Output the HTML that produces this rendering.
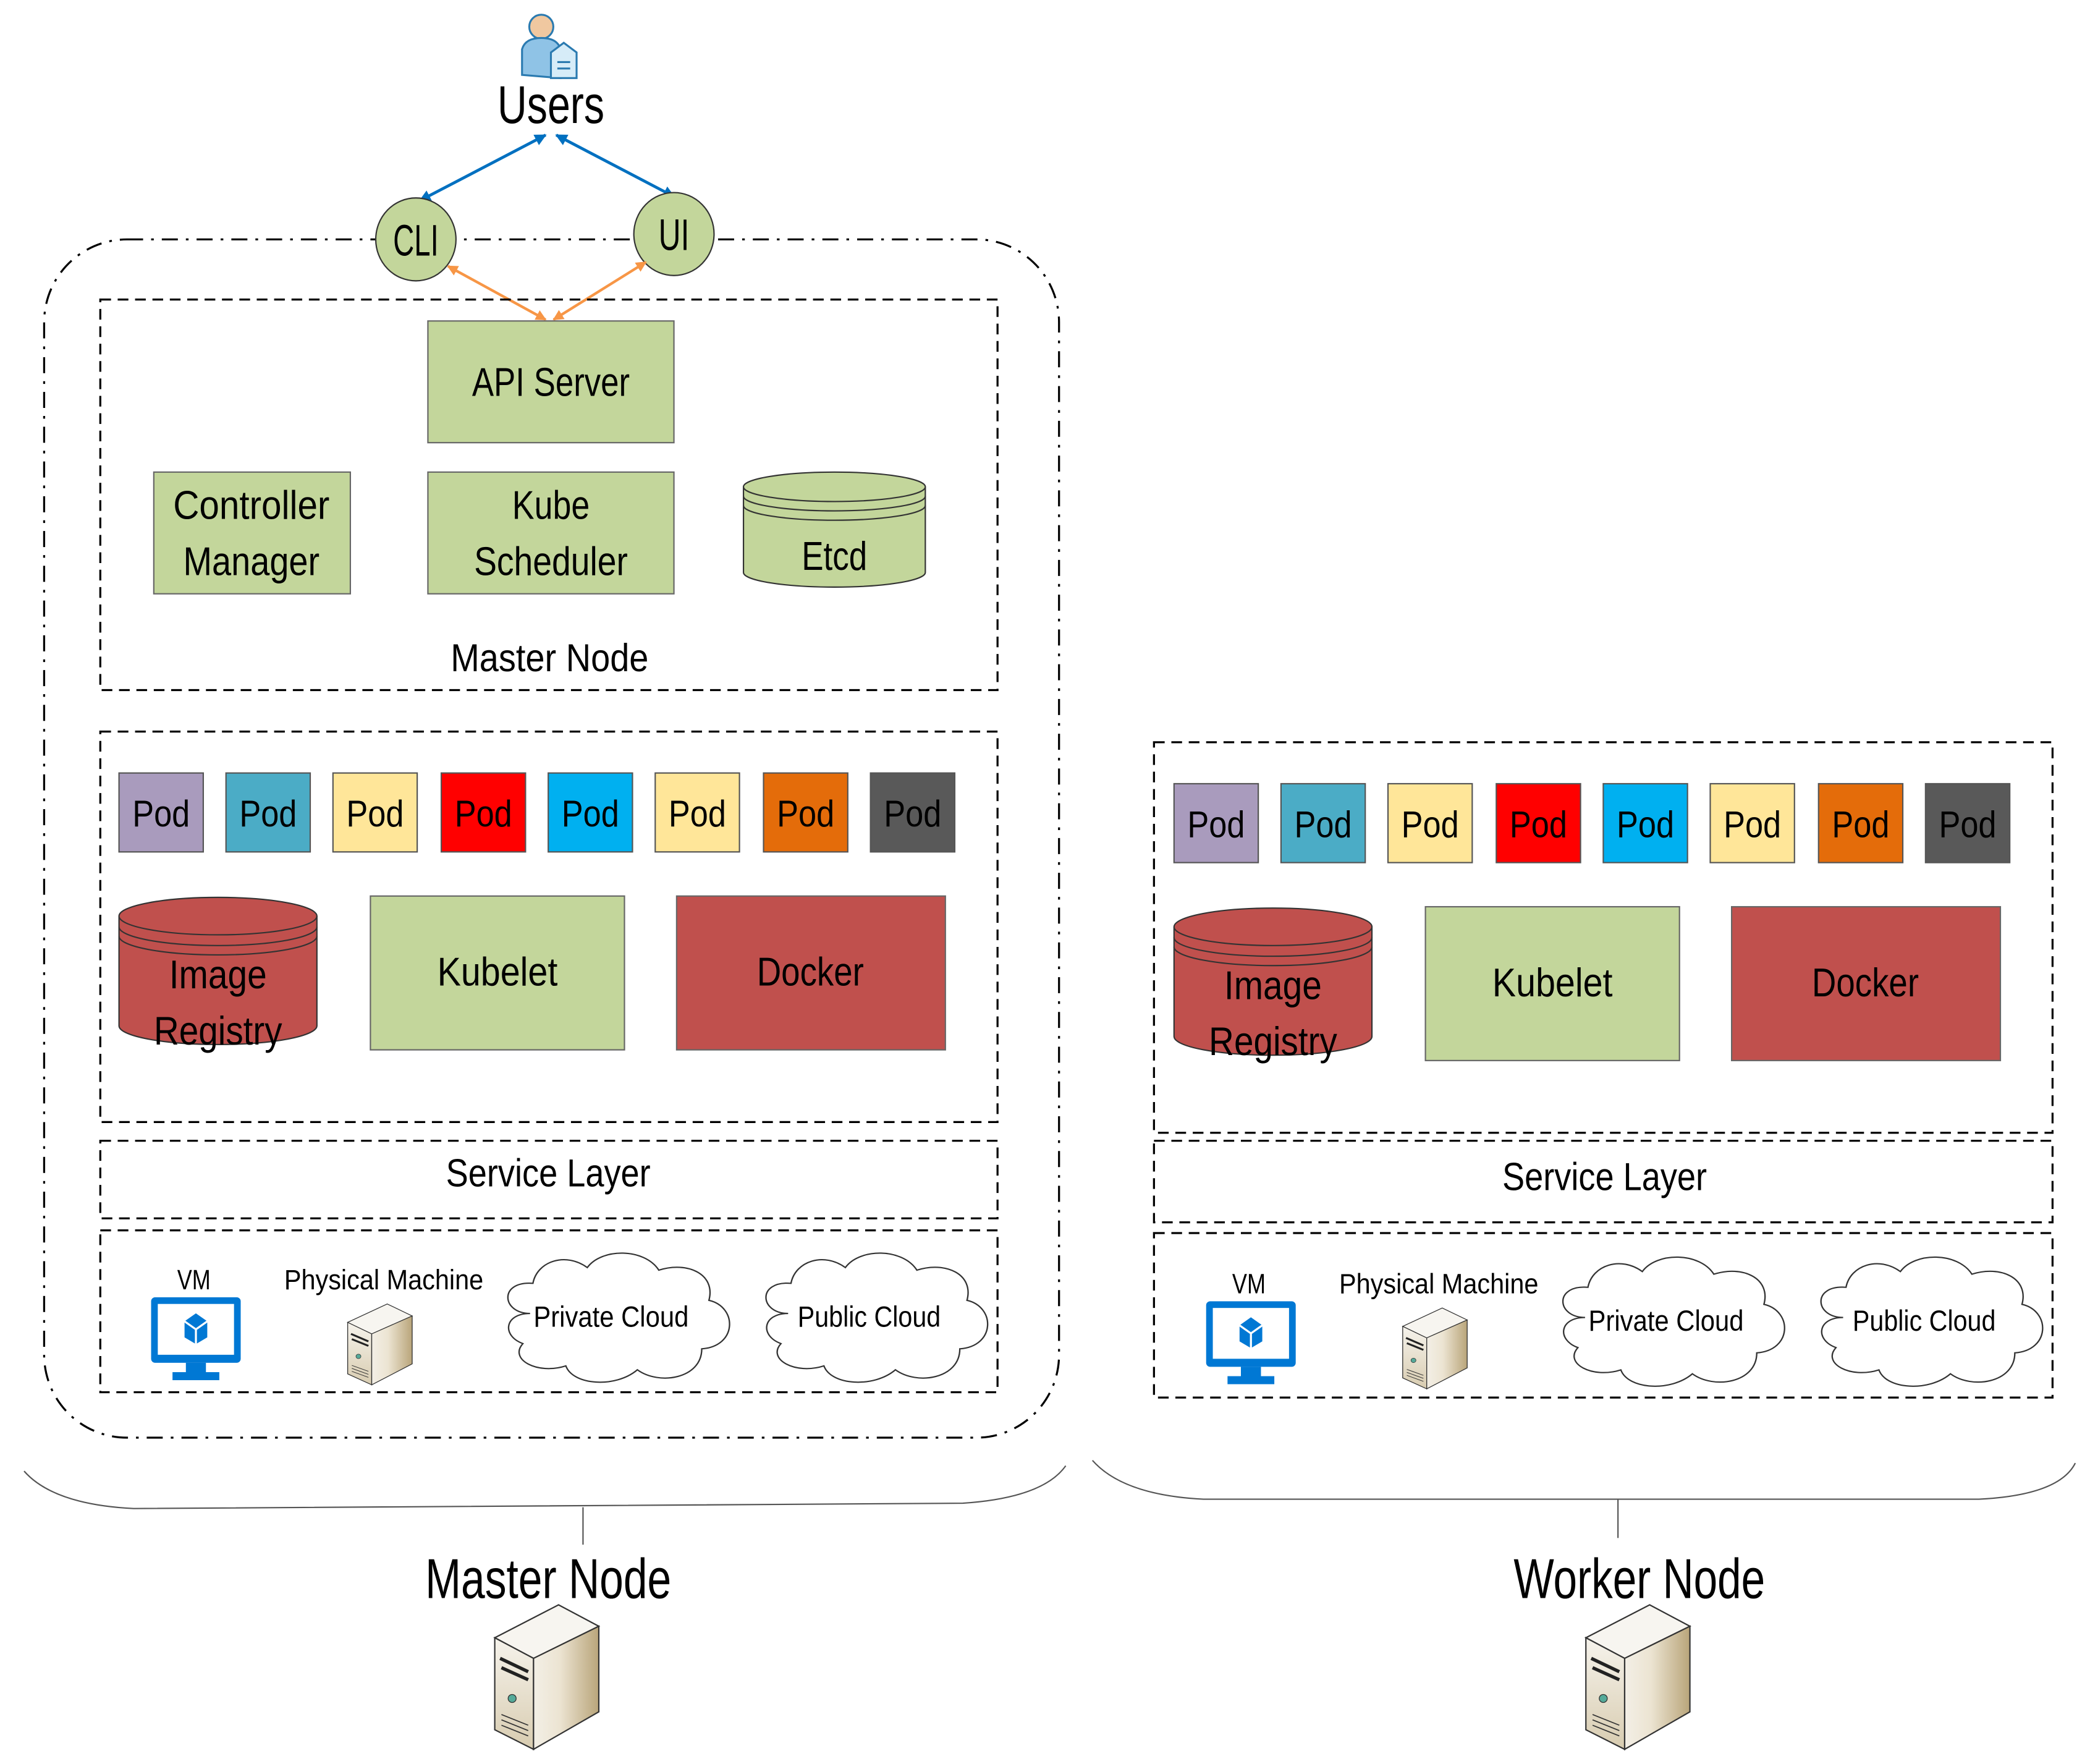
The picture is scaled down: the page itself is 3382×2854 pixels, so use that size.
<!DOCTYPE html>
<html><head><meta charset="utf-8"><style>
html,body{margin:0;padding:0;background:#fff}
svg{display:block}
text{font-family:"Liberation Sans Narrow","Liberation Sans",sans-serif;fill:#000}
</style></head><body>
<svg width="3382" height="2854" viewBox="0 0 1563 1319" xmlns="http://www.w3.org/2000/svg">
<defs>
<linearGradient id="sf" x1="0" x2="1"><stop offset="0" stop-color="#f3efe6"/><stop offset="0.4" stop-color="#ece4d2"/><stop offset="1" stop-color="#b9a57a"/></linearGradient>
<linearGradient id="ff" x1="0" y1="0" x2="0" y2="1"><stop offset="0" stop-color="#f6f3ec"/><stop offset="1" stop-color="#d8ccb0"/></linearGradient>
<g id="server">
<polygon points="0,24.6 47.7,0 77.8,16 29,40" fill="#f7f5f0" stroke="#333" stroke-width="1"/>
<polygon points="0,24.6 29,40 29,108 0,93.4" fill="url(#ff)" stroke="#333" stroke-width="1"/>
<polygon points="29,40 77.8,16 77.8,80 29,108" fill="url(#sf)" stroke="#333" stroke-width="1"/>
<path d="M4,40 L25,50 M5,47 L25,56" stroke="#222" stroke-width="2.5"/>
<circle cx="13" cy="70" r="3" fill="#5a9" stroke="#333" stroke-width="0.6"/>
<path d="M5,82 L25,90 M5,86 L25,94 M5,90 L25,98" stroke="#333" stroke-width="0.8"/>
</g>
<g id="vm">
<rect x="0" y="0" width="67" height="49" rx="3" fill="#0078d4"/>
<rect x="5" y="5" width="57" height="38" fill="#fff"/>
<rect x="26" y="49" width="15" height="8" fill="#0078d4"/>
<rect x="16" y="56" width="35" height="6" fill="#0078d4"/>
<polygon points="33.5,12 42,18 42,30 33.5,35 25,30 25,18" fill="#0078d4"/>
<path d="M25,18 L33.5,24 L42,18 M33.5,24 L33.5,35" stroke="#fff" stroke-width="1.5" fill="none"/>
</g>
<g id="cloud">
<path d="M20,45 C0,45 -2,20 22,22 C25,5 45,-2 60,10 C70,-5 100,-5 110,12 C130,5 150,15 145,35 C165,40 165,70 140,72 C140,95 110,100 95,88 C80,102 50,100 45,85 C25,92 5,80 15,68 C0,62 2,45 20,45 Z" fill="#fff" stroke="#333" stroke-width="1"/>
</g>
<g id="pods" font-size="28" text-anchor="middle">
<rect x="0" y="0" width="63" height="59" fill="#a99bbd" stroke="#555"/><text x="31.5" y="40" textLength="43" lengthAdjust="spacingAndGlyphs">Pod</text>
<rect x="80" y="0" width="63" height="59" fill="#4bacc6" stroke="#555"/><text x="111.5" y="40" textLength="43" lengthAdjust="spacingAndGlyphs">Pod</text>
<rect x="160" y="0" width="63" height="59" fill="#ffe699" stroke="#555"/><text x="191.5" y="40" textLength="43" lengthAdjust="spacingAndGlyphs">Pod</text>
<rect x="241" y="0" width="63" height="59" fill="#ff0000" stroke="#555"/><text x="272.5" y="40" textLength="43" lengthAdjust="spacingAndGlyphs">Pod</text>
<rect x="321" y="0" width="63" height="59" fill="#00b0f0" stroke="#555"/><text x="352.5" y="40" textLength="43" lengthAdjust="spacingAndGlyphs">Pod</text>
<rect x="401" y="0" width="63" height="59" fill="#ffe699" stroke="#555"/><text x="432.5" y="40" textLength="43" lengthAdjust="spacingAndGlyphs">Pod</text>
<rect x="482" y="0" width="63" height="59" fill="#e46c0a" stroke="#555"/><text x="513.5" y="40" textLength="43" lengthAdjust="spacingAndGlyphs">Pod</text>
<rect x="562" y="0" width="63" height="59" fill="#595959" stroke="#555"/><text x="593.5" y="40" textLength="43" lengthAdjust="spacingAndGlyphs">Pod</text>
</g>
<g id="worklayer">
<use href="#pods" x="14" y="31"/>
<path d="M14,138 L14,220 A74,14 0 0 0 162,220 L162,138" fill="#c0504d" stroke="#333"/>
<ellipse cx="88" cy="138" rx="74" ry="14" fill="#c0504d" stroke="#333"/>
<path d="M14,146 A74,14 0 0 0 162,146 M14,153 A74,14 0 0 0 162,153" fill="none" stroke="#333"/>
<text x="88" y="192" font-size="30" text-anchor="middle" textLength="73" lengthAdjust="spacingAndGlyphs">Image</text>
<text x="88" y="234" font-size="30" text-anchor="middle" textLength="96" lengthAdjust="spacingAndGlyphs">Registry</text>
<rect x="202" y="123" width="190" height="115" fill="#c3d69b" stroke="#666"/>
<text x="297" y="190" font-size="30" text-anchor="middle" textLength="90" lengthAdjust="spacingAndGlyphs">Kubelet</text>
<rect x="431" y="123" width="201" height="115" fill="#c0504d" stroke="#666"/>
<text x="531" y="190" font-size="30" text-anchor="middle" textLength="80" lengthAdjust="spacingAndGlyphs">Docker</text>
</g>
<g id="infra">
<text x="70" y="44" font-size="21" text-anchor="middle" textLength="25" lengthAdjust="spacingAndGlyphs">VM</text>
<use href="#vm" x="38" y="50"/>
<text x="212" y="44" font-size="21" text-anchor="middle" textLength="149" lengthAdjust="spacingAndGlyphs">Physical Machine</text>
<use href="#server" transform="translate(185,55) scale(0.62,0.56)"/>
<use href="#cloud" transform="translate(300,18) scale(1.07,0.98)"/>
<text x="382" y="72" font-size="22" text-anchor="middle" textLength="116" lengthAdjust="spacingAndGlyphs">Private Cloud</text>
<use href="#cloud" transform="translate(493,18) scale(1.07,0.98)"/>
<text x="575" y="72" font-size="22" text-anchor="middle" textLength="107" lengthAdjust="spacingAndGlyphs">Public Cloud</text>
</g>
<marker id="ab" viewBox="0 0 10 10" refX="9" refY="5" markerWidth="4" markerHeight="4" orient="auto-start-reverse"><path d="M0,0 L10,5 L0,10 z" fill="#0070c0"/></marker>
<marker id="ao" viewBox="0 0 10 10" refX="9" refY="5" markerWidth="4" markerHeight="4" orient="auto-start-reverse"><path d="M0,0 L10,5 L0,10 z" fill="#f79646"/></marker>
</defs>

<rect x="33" y="179" width="759" height="896" rx="62" fill="none" stroke="#000" stroke-width="1.5" stroke-dasharray="12,6,2,6"/>

<g transform="translate(388,8) scale(1.2)">
<circle cx="14" cy="10" r="7.5" fill="#f0c8a0" stroke="#2a7ab0" stroke-width="1.2"/>
<path d="M2,40 L2,24 Q4,17 14,17 Q24,17 26,24 L26,42 Z" fill="#8fc3e6" stroke="#2a7ab0" stroke-width="1.2"/>
<path d="M20,26 L28,20 L36,26 L36,42 L20,42 Z" fill="#d6ecf8" stroke="#2a7ab0" stroke-width="1.2"/>
<path d="M24,32 L32,32 M24,36 L32,36" stroke="#2a7ab0" stroke-width="1.2"/>
</g>
<text x="412" y="92" font-size="40" text-anchor="middle" textLength="80" lengthAdjust="spacingAndGlyphs">Users</text>

<line x1="408" y1="101" x2="314" y2="150" stroke="#0070c0" stroke-width="2.2" marker-start="url(#ab)" marker-end="url(#ab)"/>
<line x1="416" y1="101" x2="504" y2="147" stroke="#0070c0" stroke-width="2.2" marker-start="url(#ab)" marker-end="url(#ab)"/>

<ellipse cx="311" cy="179" rx="30" ry="31" fill="#c3d69b" stroke="#333"/>
<text x="311" y="191" font-size="33" text-anchor="middle" textLength="34" lengthAdjust="spacingAndGlyphs">CLI</text>
<ellipse cx="504" cy="175" rx="30" ry="31" fill="#c3d69b" stroke="#333"/>
<text x="504" y="187" font-size="33" text-anchor="middle" textLength="23" lengthAdjust="spacingAndGlyphs">UI</text>

<line x1="408" y1="239" x2="335" y2="199" stroke="#f79646" stroke-width="2" marker-start="url(#ao)" marker-end="url(#ao)"/>
<line x1="414" y1="239" x2="483" y2="196" stroke="#f79646" stroke-width="2" marker-start="url(#ao)" marker-end="url(#ao)"/>

<rect x="75" y="224" width="671" height="292" fill="none" stroke="#000" stroke-width="1.5" stroke-dasharray="8,5"/>
<rect x="320" y="240" width="184" height="91" fill="#c3d69b" stroke="#666"/>
<text x="412" y="296" font-size="30" text-anchor="middle" textLength="118" lengthAdjust="spacingAndGlyphs">API Server</text>
<rect x="115" y="353" width="147" height="91" fill="#c3d69b" stroke="#666"/>
<text x="188" y="388" font-size="30" text-anchor="middle" textLength="117" lengthAdjust="spacingAndGlyphs">Controller</text>
<text x="188" y="430" font-size="30" text-anchor="middle" textLength="102" lengthAdjust="spacingAndGlyphs">Manager</text>
<rect x="320" y="353" width="184" height="91" fill="#c3d69b" stroke="#666"/>
<text x="412" y="388" font-size="30" text-anchor="middle" textLength="58" lengthAdjust="spacingAndGlyphs">Kube</text>
<text x="412" y="430" font-size="30" text-anchor="middle" textLength="115" lengthAdjust="spacingAndGlyphs">Scheduler</text>
<path d="M556,364 L556,428 A68,11 0 0 0 692,428 L692,364" fill="#c3d69b" stroke="#333"/>
<ellipse cx="624" cy="364" rx="68" ry="11" fill="#c3d69b" stroke="#333"/>
<path d="M556,371 A68,11 0 0 0 692,371 M556,378 A68,11 0 0 0 692,378" fill="none" stroke="#333"/>
<text x="624" y="426" font-size="30" text-anchor="middle" textLength="49" lengthAdjust="spacingAndGlyphs">Etcd</text>
<text x="411" y="502" font-size="29" text-anchor="middle" textLength="148" lengthAdjust="spacingAndGlyphs">Master Node</text>

<rect x="75" y="547" width="671" height="292" fill="none" stroke="#000" stroke-width="1.5" stroke-dasharray="8,5"/>
<use href="#worklayer" x="75" y="547"/>
<rect x="75" y="853" width="671" height="58" fill="none" stroke="#000" stroke-width="1.5" stroke-dasharray="8,5"/>
<text x="410" y="887" font-size="29" text-anchor="middle" textLength="153" lengthAdjust="spacingAndGlyphs">Service Layer</text>
<rect x="75" y="920" width="671" height="121" fill="none" stroke="#000" stroke-width="1.5" stroke-dasharray="8,5"/>
<use href="#infra" x="75" y="920"/>

<rect x="863" y="555" width="672" height="292" fill="none" stroke="#000" stroke-width="1.5" stroke-dasharray="8,5"/>
<use href="#worklayer" x="864" y="555"/>
<rect x="863" y="853" width="672" height="61" fill="none" stroke="#000" stroke-width="1.5" stroke-dasharray="8,5"/>
<text x="1200" y="890" font-size="29" text-anchor="middle" textLength="153" lengthAdjust="spacingAndGlyphs">Service Layer</text>
<rect x="863" y="922" width="672" height="123" fill="none" stroke="#000" stroke-width="1.5" stroke-dasharray="8,5"/>
<use href="#infra" x="864" y="923"/>

<path d="M18,1100 Q40,1125 100,1128 L720,1124 Q780,1120 797,1096" fill="none" stroke="#555" stroke-width="1"/>
<line x1="436" y1="1127" x2="436" y2="1155" stroke="#555"/>
<path d="M817,1092 Q840,1118 900,1121 L1480,1121 Q1540,1118 1552,1094" fill="none" stroke="#555" stroke-width="1"/>
<line x1="1210" y1="1121" x2="1210" y2="1150" stroke="#555"/>

<text x="410" y="1195" font-size="42" text-anchor="middle" textLength="184" lengthAdjust="spacingAndGlyphs">Master Node</text>
<text x="1226" y="1195" font-size="42" text-anchor="middle" textLength="188" lengthAdjust="spacingAndGlyphs">Worker Node</text>
<use href="#server" x="370" y="1200"/>
<use href="#server" x="1186" y="1200"/>
</svg>
</body></html>
